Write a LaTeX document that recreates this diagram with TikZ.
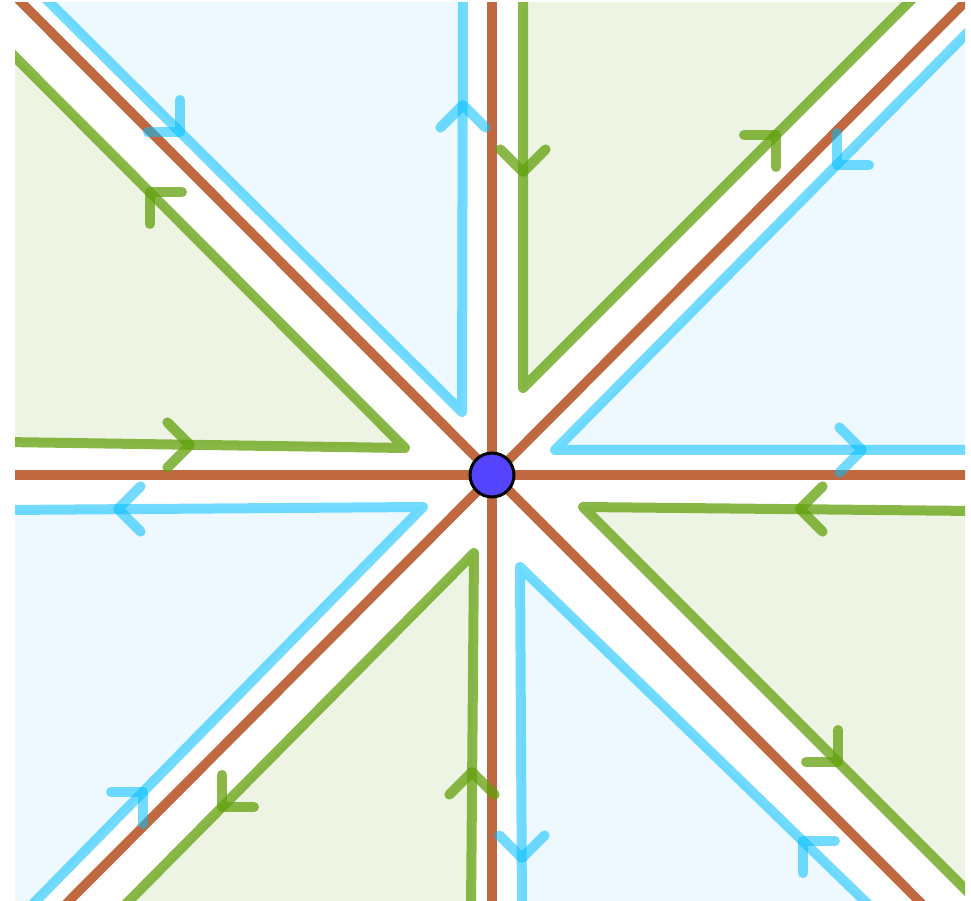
\documentclass[tikz,border=0pt]{standalone}
\usepackage{tikz}
\usetikzlibrary{calc}

\definecolor{sepbrown}{RGB}{192,105,64}
\definecolor{flowblue}{RGB}{0,190,255}
\definecolor{flowgreen}{RGB}{97,160,12}
\definecolor{sectorblue}{RGB}{238,249,255}
\definecolor{sectorgreen}{RGB}{238,244,227}
\definecolor{dotblue}{RGB}{85,68,255}

% chevron on a trajectory: style, tip, direction
\newcommand{\flowmark}[3]{%
  \draw[#1] (#2) ++(#3+135:32) -- (#2) -- ++(#3-135:32);}

\begin{document}
\begin{tikzpicture}[
    x=1pt, y=1pt,
    separatrix/.style={draw=sepbrown, line width=9.5pt},
    blueflow/.style={
        draw=flowblue, draw opacity=0.55, line width=10pt,
        line cap=round, line join=round
    },
    greenflow/.style={
        draw=flowgreen, draw opacity=0.75, line width=10pt,
        line cap=round, line join=round
    },
    bluesector/.style={fill=sectorblue},
    greensector/.style={fill=sectorgreen},
    saddle/.style={
        circle, draw=black, line width=3pt, fill=dotblue,
        minimum size=44pt, inner sep=0pt
    },
]
\useasboundingbox (0,0) rectangle (971,900);

\begin{scope}
\clip (15,0) rectangle (965,897);

% Corners of the sectors
\coordinate (gNE) at (523,512);  \coordinate (gNEa) at (523,905);  \coordinate (gNEb) at (916,905);
\coordinate (bE)  at (555,450);  \coordinate (bEa)  at (975,450);  \coordinate (bEb)  at (975,875);
\coordinate (gSE) at (583,393);  \coordinate (gSEa) at (975,389);  \coordinate (gSEb) at (975,1);
\coordinate (bS)  at (520,333);  \coordinate (bSa)  at (522,-10);  \coordinate (bSb)  at (874,-10);
\coordinate (gSW) at (474,347);  \coordinate (gSWa) at (471,-10);  \coordinate (gSWb) at (120,-10);
\coordinate (bW)  at (423,393);  \coordinate (bWa)  at (5,390);    \coordinate (bWb)  at (27,-10);
\coordinate (gW)  at (405,452);  \coordinate (gWa)  at (5,458);    \coordinate (gWb)  at (5,853);
\coordinate (bN)  at (462,488);  \coordinate (bNa)  at (463,905);  \coordinate (bNb)  at (42,905);

% Sectors
\fill[greensector] (gNE) -- (gNEa) -- (gNEb) -- cycle;
\fill[bluesector]  (bE) -- (bEa) -- (bEb) -- cycle;
\fill[greensector] (gSE) -- (gSEa) -- (gSEb) -- cycle;
\fill[bluesector]  (bS) -- (bSa) -- (bSb) -- cycle;
\fill[greensector] (gSW) -- (gSWa) -- (gSWb) -- cycle;
\fill[bluesector]  (bW) -- (bWa) -- (5,-10) -- (bWb) -- cycle;
\fill[greensector] (gW) -- (gWa) -- (gWb) -- cycle;
\fill[bluesector]  (bN) -- (bNa) -- (bNb) -- cycle;

% Separatrices
\coordinate (hW) at (5,425);    \coordinate (hE) at (975,425);
\coordinate (vS) at (492,-10);  \coordinate (vN) at (492,905);
\coordinate (dNW) at (12,907);  \coordinate (dSE) at (928,-10);
\coordinate (dSW) at (60,-10);  \coordinate (dNE) at (972,905);
\draw[separatrix] (hW) -- (hE);
\draw[separatrix] (vS) -- (vN);
\draw[separatrix] (dNW) -- (dSE);
\draw[separatrix] (dSW) -- (dNE);

% Trajectories
\draw[greenflow] (gNEa) -- (gNE) -- (gNEb);
\draw[blueflow]  (bEb) -- (bE) -- (bEa);
\draw[greenflow] (gSEa) -- (gSE) -- (gSEb);
\draw[blueflow]  (bSb) -- (bS) -- (bSa);
\draw[greenflow] (gSWa) -- (gSW) -- (gSWb);
\draw[blueflow]  (bWb) -- (bW) -- (bWa);
\draw[greenflow] (gWa) -- (gW) -- (gWb);
\draw[blueflow]  (bNb) -- (bN) -- (bNa);

% Direction marks
\flowmark{greenflow}{523,728}{-90}
\flowmark{greenflow}{776,765}{45}
\flowmark{blueflow}{837,735}{225}
\flowmark{blueflow}{862,450}{0}
\flowmark{greenflow}{800,391}{180}
\flowmark{greenflow}{838,138}{-45}
\flowmark{blueflow}{522,42}{-90}
\flowmark{blueflow}{803,59}{135}
\flowmark{greenflow}{472,128}{90}
\flowmark{greenflow}{222,93}{225}
\flowmark{blueflow}{143,108}{45}
\flowmark{blueflow}{118,391}{180}
\flowmark{greenflow}{190,455}{0}
\flowmark{greenflow}{150,708}{135}
\flowmark{blueflow}{180,768}{-45}
\flowmark{blueflow}{463,795}{90}
\end{scope}

% Equilibrium
\node[saddle] (eq) at (492,425) {};

\end{tikzpicture}
\end{document}
